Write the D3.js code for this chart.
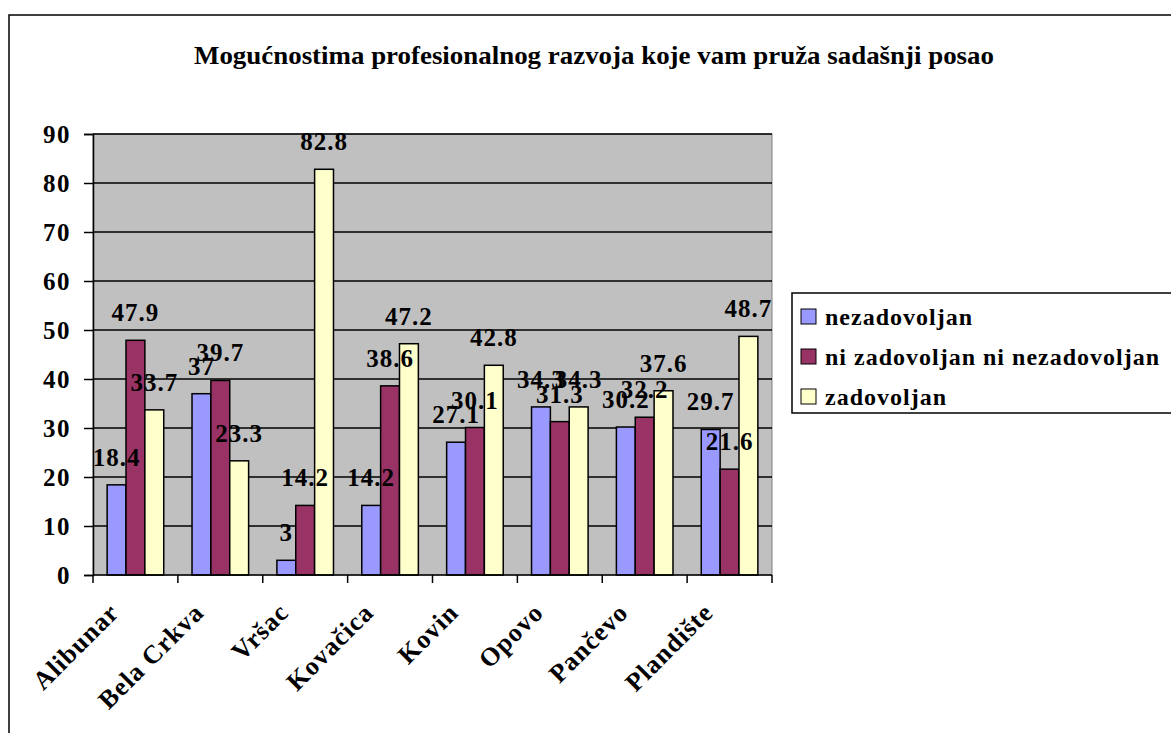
<!DOCTYPE html>
<html>
<head>
<meta charset="utf-8">
<script src="https://cdn.jsdelivr.net/npm/d3@7"></script>
<style>
  body { margin: 0; background: #fff; }
  svg text { font-family: "Liberation Serif", "DejaVu Serif", "Times New Roman", serif !important; font-weight: bold; fill: #000; }
</style>
</head>
<body>
<div id="chart"></div>
<script>
// data
var chartTitle = "Mogućnostima profesionalnog razvoja koje vam pruža sadašnji posao";
var towns = ["Alibunar", "Bela Crkva", "Vršac", "Kovačica", "Kovin", "Opovo", "Pančevo", "Plandište"];
var seriesNames = ["nezadovoljan", "ni zadovoljan ni nezadovoljan", "zadovoljan"];
var nezadovoljan = [18.4, 37, 3, 14.2, 27.1, 34.3, 30.2, 29.7];
var niNi = [47.9, 39.7, 14.2, 38.6, 30.1, 31.3, 32.2, 21.6];
var zadovoljan = [33.7, 23.3, 82.8, 47.2, 42.8, 34.3, 37.6, 48.7];
var yTicks = [0, 10, 20, 30, 40, 50, 60, 70, 80, 90];

var seriesColors = ["#9999FF", "#993366", "#FFFFCC"];
var allSeries = [nezadovoljan, niNi, zadovoljan];

var W = 1171, H = 733;
var plot = {left: 93, right: 772, top: 134, bottom: 575};

var svg = d3.select("#chart").append("svg")
  .attr("width", W)
  .attr("height", H);

// outer chart frame (runs off the picture on right and bottom)
svg.append("rect")
  .attr("x", 9).attr("y", 15)
  .attr("width", 1250).attr("height", 800)
  .attr("fill", "#fff")
  .attr("stroke", "#000")
  .attr("stroke-width", 1.5);

// title
svg.append("text")
  .attr("x", 594).attr("y", 64)
  .attr("text-anchor", "middle")
  .attr("textLength", 800)
  .attr("lengthAdjust", "spacingAndGlyphs")
  .style("font-size", "25px")
  .text(chartTitle);

// scales
var x0 = d3.scaleBand().domain(towns).range([plot.left, plot.right]).padding(0);
var x1 = d3.scaleBand().domain(d3.range(seriesNames.length))
  .range([0, x0.bandwidth()]).paddingInner(0).paddingOuter(0.75);
var y = d3.scaleLinear().domain([0, 90]).range([plot.bottom, plot.top]);

// plot background
svg.append("rect")
  .attr("x", plot.left).attr("y", plot.top)
  .attr("width", plot.right - plot.left).attr("height", plot.bottom - plot.top)
  .attr("fill", "#C0C0C0")
  .attr("stroke", "#808080")
  .attr("stroke-width", 1);

// gridlines
svg.append("g")
  .selectAll("line")
  .data(yTicks.filter(function(d) { return d > 0; }))
  .enter()
  .append("line")
  .attr("x1", plot.left).attr("x2", plot.right)
  .attr("y1", function(d) { return y(d); })
  .attr("y2", function(d) { return y(d); })
  .attr("stroke", "#000")
  .attr("stroke-width", 1.5);

// bars
var rows = towns.map(function(t, i) {
  return {town: t, vals: allSeries.map(function(s) { return s[i]; })};
});

var groups = svg.append("g")
  .selectAll("g")
  .data(rows)
  .enter()
  .append("g")
  .attr("transform", function(d) { return "translate(" + x0(d.town) + ",0)"; });

groups.selectAll("rect")
  .data(function(d) { return d.vals; })
  .enter()
  .append("rect")
  .attr("x", function(d, i) { return x1(i); })
  .attr("y", function(d) { return y(d); })
  .attr("width", x1.bandwidth())
  .attr("height", function(d) { return y(0) - y(d); })
  .attr("fill", function(d, i) { return seriesColors[i]; })
  .attr("stroke", "#000")
  .attr("stroke-width", 1.5);

// y axis
var yAxis = d3.axisLeft(y).tickValues(yTicks).tickSize(9).tickPadding(13);
var gy = svg.append("g")
  .attr("transform", "translate(" + plot.left + ",0)")
  .call(yAxis);
gy.select(".domain").attr("stroke", "#000").attr("stroke-width", 1.5);
gy.selectAll(".tick line").attr("stroke", "#000").attr("stroke-width", 1.5);
gy.selectAll(".tick text")
  .style("font-size", "25px")
  .style("letter-spacing", "1.5px")
  .attr("dy", "0.34em");

// x axis: ticks at category boundaries
var xAxisG = svg.append("g");
xAxisG.append("line")
  .attr("x1", plot.left).attr("x2", plot.right)
  .attr("y1", plot.bottom).attr("y2", plot.bottom)
  .attr("stroke", "#000").attr("stroke-width", 1.5);
var bounds = towns.map(function(t) { return x0(t); }).concat([plot.right]);
xAxisG.selectAll("line.tk")
  .data(bounds)
  .enter()
  .append("line")
  .attr("class", "tk")
  .attr("x1", function(d) { return d; }).attr("x2", function(d) { return d; })
  .attr("y1", plot.bottom).attr("y2", plot.bottom + 8)
  .attr("stroke", "#000").attr("stroke-width", 1.5);

xAxisG.selectAll("text")
  .data(towns)
  .enter()
  .append("text")
  .attr("text-anchor", "end")
  .style("font-size", "26px")
  .style("letter-spacing", "1px")
  .attr("transform", function(d) {
    var cx = x0(d) + x0.bandwidth() / 2;
    return "translate(" + (cx - 15) + "," + (plot.bottom + 39) + ") rotate(-45)";
  })
  .text(function(d) { return d; });

// value labels
groups.selectAll("text")
  .data(function(d) { return d.vals; })
  .enter()
  .append("text")
  .attr("text-anchor", "middle")
  .style("font-size", "25px")
  .style("letter-spacing", "1px")
  .attr("x", function(d, i) { return x1(i) + x1.bandwidth() / 2; })
  .attr("y", function(d) { return y(d) - 19; })
  .text(function(d) { return d; });

// legend
var leg = svg.append("g").attr("transform", "translate(792,293)");
leg.append("rect")
  .attr("x", 0).attr("y", 0)
  .attr("width", 400).attr("height", 120)
  .attr("fill", "#fff")
  .attr("stroke", "#000")
  .attr("stroke-width", 1.5);
var items = leg.selectAll("g.item")
  .data(seriesNames)
  .enter()
  .append("g")
  .attr("class", "item")
  .attr("transform", function(d, i) { return "translate(0," + (24 + i * 40) + ")"; });
items.append("rect")
  .attr("x", 9).attr("y", -8)
  .attr("width", 15).attr("height", 15)
  .attr("fill", function(d, i) { return seriesColors[i]; })
  .attr("stroke", "#000")
  .attr("stroke-width", 1);
items.append("text")
  .attr("x", 33).attr("y", 8)
  .style("font-size", "24px")
  .style("letter-spacing", "1px")
  .text(function(d) { return d; });
</script>
</body>
</html>
